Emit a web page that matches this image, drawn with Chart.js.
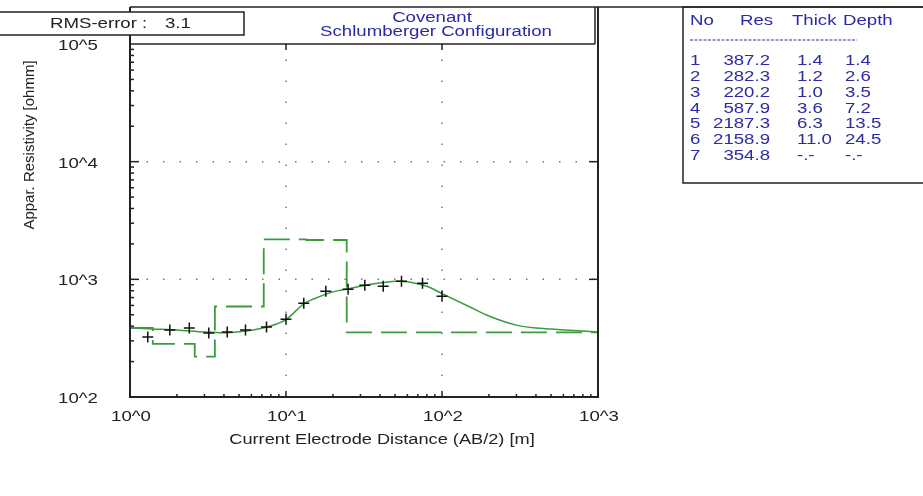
<!DOCTYPE html>
<html>
<head>
<meta charset="utf-8">
<script src="https://cdn.jsdelivr.net/npm/chart.js@4"></script>
<style>
  html, body { margin: 0; padding: 0; background: #fff; }
  canvas { display: block; }
</style>
</head>
<body>
<canvas id="chart" width="923" height="496" style="width:923px;height:496px"></canvas>
<script>
// measured apparent resistivity (crosses)
const obsX = [1.3, 1.8, 2.4, 3.2, 4.2, 5.5, 7.5, 10, 13, 18, 25, 32, 42, 55, 75, 100];
const obsY = [324, 371, 386, 350, 357, 371, 394, 459, 627, 792, 824, 890, 873, 962, 925, 719];

// calculated (fitted) curve
const fitX = [1, 1.4, 2, 3, 4, 5, 7, 10, 13, 15, 20, 25, 35, 50, 55, 60, 80, 100, 150, 200, 300, 400, 500, 700, 1000];
const fitY = [387, 379, 371, 357, 352, 359, 384, 455, 620, 681, 782, 830, 907, 962, 965, 955, 873, 757, 585, 488, 408, 385, 378, 368, 357];

// layered model
const layerNo = [1, 2, 3, 4, 5, 6, 7];
const layerRes = [387.2, 282.3, 220.2, 587.9, 2187.3, 2158.9, 354.8];
const layerThick = [1.4, 1.2, 1.0, 3.6, 6.3, 11.0, null];
const layerDepth = [1.4, 2.6, 3.5, 7.2, 13.5, 24.5, null];

const xTicks = [1, 10, 100, 1000];
const xTickLabels = ['10^0', '10^1', '10^2', '10^3'];
const yTicks = [100, 1000, 10000, 100000];
const yTickLabels = ['10^2', '10^3', '10^4', '10^5'];

const rmsError = '3.1';
const titleLines = ['Covenant', 'Schlumberger Configuration'];
const xTitle = 'Current Electrode Distance (AB/2) [m]';
const yTitle = 'Appar. Resistivity [ohmm]';

const GREEN = '#3a9c3a';
const BLUE = '#2a2aa8';
const INK = '#222';
const FONT = '"Liberation Sans", Arial, sans-serif';
const SX = 1.33; // the original text is drawn wide

// step model: each layer's resistivity holds from its top to the next depth
const modelPts = [{ x: 1, y: layerRes[0] }];
layerDepth.forEach((d, i) => {
  if (d !== null) modelPts.push({ x: d, y: layerRes[i + 1] });
});
modelPts.push({ x: 1000, y: layerRes[layerRes.length - 1] });

function txt(ctx, s, x, y, opts = {}) {
  ctx.save();
  ctx.font = (opts.size || 14) + 'px ' + FONT;
  ctx.fillStyle = opts.color || INK;
  ctx.textBaseline = 'middle';
  ctx.textAlign = opts.align || 'left';
  ctx.translate(x, y);
  if (opts.rotate) ctx.rotate(opts.rotate);
  ctx.scale(opts.sx || SX, 1);
  ctx.fillText(s, 0, 0);
  ctx.restore();
}

function line(ctx, x1, y1, x2, y2) {
  ctx.beginPath();
  ctx.moveTo(x1, y1);
  ctx.lineTo(x2, y2);
  ctx.stroke();
}

const decor = {
  id: 'decor',
  beforeDatasetsDraw(chart) {
    const { ctx, chartArea: a, scales: { x, y } } = chart;
    ctx.save();
    ctx.strokeStyle = '#777';
    ctx.lineWidth = 1.5;
    ctx.setLineDash([1.5, 19.5]);
    [10, 100].forEach(v => line(ctx, x.getPixelForValue(v), a.bottom, x.getPixelForValue(v), a.top));
    ctx.setLineDash([1.5, 15]);
    [1000, 10000].forEach(v => line(ctx, a.left, y.getPixelForValue(v), a.right, y.getPixelForValue(v)));
    ctx.restore();
  },
  afterDatasetsDraw(chart) {
    const { ctx, chartArea: a, scales: { x, y } } = chart;
    const W = chart.width;
    ctx.save();
    ctx.strokeStyle = INK;

    // frame
    ctx.lineWidth = 2;
    line(ctx, a.left, 7, a.left, a.bottom + 1);
    line(ctx, a.left, a.bottom, a.right, a.bottom);
    line(ctx, a.right, 7, a.right, a.bottom + 1);
    ctx.lineWidth = 1.5;
    line(ctx, a.left, 7, W, 7);
    line(ctx, a.left, a.top, a.right - 3, a.top);
    line(ctx, a.right - 3, 7, a.right - 3, a.top);

    // ticks
    ctx.lineWidth = 1.5;
    for (let d = 1; d < 1000; d *= 10) {
      for (let m = 1; m <= 9; m++) {
        const v = d * m;
        if (v <= 1) continue;
        const px = x.getPixelForValue(v);
        if (m === 1) {
          line(ctx, px, a.bottom, px, a.bottom - 6);
          line(ctx, px, a.top, px, a.top + 6);
        } else {
          line(ctx, px, a.bottom, px, a.bottom - 3);
        }
      }
    }
    for (let d = 100; d < 100000; d *= 10) {
      for (let m = 1; m <= 9; m++) {
        const v = d * m;
        if (v <= 100) continue;
        const py = y.getPixelForValue(v);
        if (m === 1) {
          line(ctx, a.left, py, a.left + 9, py);
          line(ctx, a.right, py, a.right - 9, py);
        } else {
          line(ctx, a.left, py, a.left + 4, py);
        }
      }
    }

    // tick labels
    yTicks.forEach((v, i) => txt(ctx, yTickLabels[i], 78, y.getPixelForValue(v) + 2, { align: 'center' }));
    xTicks.forEach((v, i) => txt(ctx, xTickLabels[i], x.getPixelForValue(v) + 1, 417, { align: 'center' }));

    // axis titles
    txt(ctx, xTitle, 382, 440, { align: 'center', sx: 1.3 });
    txt(ctx, yTitle, 30, 145, { align: 'center', size: 15, rotate: -Math.PI / 2, sx: 1 });

    // chart title
    txt(ctx, titleLines[0], 432, 18, { align: 'center', color: BLUE });
    txt(ctx, titleLines[1], 436, 32, { align: 'center', color: BLUE });

    // RMS box
    ctx.fillStyle = '#fff';
    ctx.fillRect(-2, 12, 246, 23);
    ctx.lineWidth = 1.5;
    ctx.strokeRect(-2, 12, 246, 23);
    txt(ctx, 'RMS-error :', 50, 24);
    txt(ctx, rmsError, 165, 24);

    // layer table
    ctx.strokeRect(683, 7, W, 176);
    txt(ctx, 'No', 690, 21, { color: BLUE });
    txt(ctx, 'Res', 740, 21, { color: BLUE });
    txt(ctx, 'Thick', 792, 21, { color: BLUE });
    txt(ctx, 'Depth', 843, 21, { color: BLUE });
    ctx.strokeStyle = BLUE;
    ctx.lineWidth = 1;
    ctx.setLineDash([3, 1.5]);
    line(ctx, 690, 40, 857, 40);
    ctx.setLineDash([]);
    layerNo.forEach((n, i) => {
      const ry = 61 + i * 15.9;
      const fmt = v => (v === null ? '-.-' : v.toFixed(1));
      txt(ctx, String(n), 690, ry, { color: BLUE });
      txt(ctx, fmt(layerRes[i]), 770, ry, { color: BLUE, align: 'right' });
      txt(ctx, fmt(layerThick[i]), 797, ry, { color: BLUE });
      txt(ctx, fmt(layerDepth[i]), 845, ry, { color: BLUE });
    });
    ctx.restore();
  }
};

new Chart(document.getElementById('chart'), {
  type: 'scatter',
  data: {
    datasets: [
      {
        label: 'measured',
        data: obsX.map((v, i) => ({ x: v, y: obsY[i] })),
        pointStyle: 'cross',
        pointRadius: 5.5,
        pointBorderWidth: 1.5,
        borderColor: '#111',
        backgroundColor: '#111',
        showLine: false
      },
      {
        label: 'calculated',
        data: fitX.map((v, i) => ({ x: v, y: fitY[i] })),
        showLine: true,
        borderColor: GREEN,
        borderWidth: 1.5,
        pointRadius: 0,
        cubicInterpolationMode: 'monotone'
      },
      {
        label: 'model',
        data: modelPts,
        showLine: true,
        stepped: 'before',
        borderColor: GREEN,
        borderWidth: 1.8,
        borderDash: [26, 9],
        pointRadius: 0
      }
    ]
  },
  options: {
    responsive: false,
    animation: false,
    layout: { padding: { left: 130, right: 325, top: 44, bottom: 99 } },
    scales: {
      x: { type: 'logarithmic', min: 1, max: 1000, display: false },
      y: { type: 'logarithmic', min: 100, max: 100000, display: false }
    },
    plugins: { legend: { display: false }, tooltip: { enabled: false } }
  },
  plugins: [decor]
});
</script>
</body>
</html>
